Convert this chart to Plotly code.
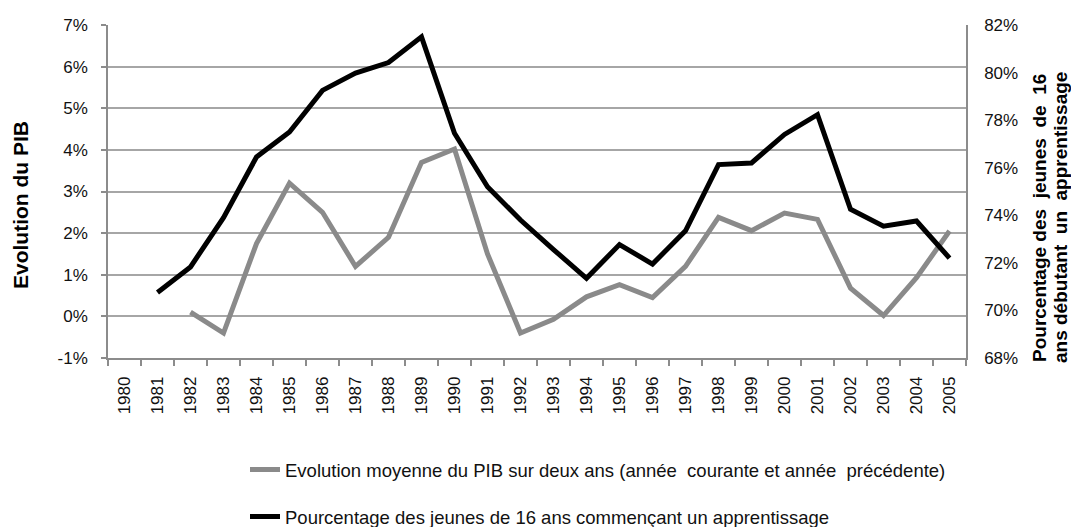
import plotly.graph_objects as go

years = [str(y) for y in range(1980, 2006)]

# Evolution moyenne du PIB sur deux ans (%), left axis
pib = [None, None, 0.1, -0.4, 1.75, 3.2, 2.5, 1.2, 1.9, 3.7, 4.02, 1.5, -0.4,
       -0.07, 0.47, 0.76, 0.45, 1.2, 2.38, 2.06, 2.48, 2.33, 0.68, 0.02, 0.93, 2.05]

# Pourcentage des jeunes de 16 ans commençant un apprentissage (%), right axis
appr = [None, 70.75, 71.83, 73.9, 76.45, 77.5, 79.25, 79.98, 80.42, 81.5, 77.45,
        75.2, 73.8, 72.56, 71.35, 72.77, 71.95, 73.35, 76.13, 76.2, 77.4, 78.23,
        74.25, 73.54, 73.76, 72.2]

left_ticks = [-1, 0, 1, 2, 3, 4, 5, 6, 7]
right_ticks = [68, 70, 72, 74, 76, 78, 80, 82]

NB = "\u00a0"
name_pib = "Evolution moyenne du PIB sur deux ans (année  courante et année  précédente)".replace("  ", " " + NB)
name_appr = "Pourcentage des jeunes de 16 ans commençant un apprentissage"
title_left = "Evolution du PIB"
title_right_1 = "Pourcentage des" + NB + " jeunes" + NB + " de" + NB + " 16"
title_right_2 = "ans débutant" + NB + " un" + NB + " apprentissage"

FONT = "Liberation Sans, Arial, sans-serif"
GRID = "#a6a6a6"
AXIS = "#8c8c8c"

W, H = 1071, 519          # page has an 8px body offset
L, T, PW, PH = 100, 17, 858, 333
OFF = 8


def px(xpage):
    return (xpage - OFF - L) / PW


def py(ypage):
    return (T + PH - (ypage - OFF)) / PH


fig = go.Figure()
fig.add_trace(go.Scatter(x=years, y=pib, name=name_pib, mode="lines",
                         line=dict(color="#8a8a8a", width=5), yaxis="y",
                         legend="legend"))
fig.add_trace(go.Scatter(x=years, y=appr, name=name_appr, mode="lines",
                         line=dict(color="#000000", width=5), yaxis="y2",
                         legend="legend2"))

fig.update_layout(
    width=W, height=H,
    margin=dict(l=L, r=W - L - PW, t=T, b=H - T - PH, autoexpand=False),
    plot_bgcolor="white", paper_bgcolor="white",
    font=dict(family=FONT, size=17, color="#111111"),
    xaxis=dict(type="category", tickson="boundaries", ticks="outside",
               ticklen=6, tickcolor=AXIS, tickwidth=1.5,
               showline=True, linecolor=AXIS, linewidth=1.5,
               showgrid=False, tickangle=-90, tickfont=dict(size=17),
               ticklabelstandoff=10,
               automargin=False, range=[-0.5, 25.5]),
    yaxis=dict(range=[-1, 7], tickvals=left_ticks,
               ticktext=[f"{v}%" for v in left_ticks],
               showline=True, linecolor=AXIS, linewidth=1.5,
               ticks="outside", ticklen=5, tickcolor=AXIS, tickwidth=1.5,
               showgrid=True, gridcolor=GRID, gridwidth=1.5,
               zeroline=False, automargin=False, ticklabelstandoff=10,
               tickfont=dict(size=17)),
    yaxis2=dict(range=[68, 82], tickvals=right_ticks,
                ticktext=[f"{v}%" for v in right_ticks],
                overlaying="y", side="right", showgrid=False,
                showline=True, linecolor=AXIS, linewidth=1.5,
                ticks="", zeroline=False, automargin=False,
                ticklabelstandoff=13,
                tickfont=dict(size=17)),
    legend=dict(xref="container", yref="container", x=237 / W, y=1 - 462 / H,
                xanchor="left", yanchor="middle", font=dict(size=18.5),
                bgcolor="rgba(0,0,0,0)"),
    legend2=dict(xref="container", yref="container", x=237 / W, y=1 - 509 / H,
                 xanchor="left", yanchor="middle", font=dict(size=18.5),
                 bgcolor="rgba(0,0,0,0)"),
    showlegend=True,
    annotations=[
        dict(text="<b>" + title_left + "</b>", xref="paper", yref="paper",
             x=px(20), y=py(205), textangle=-90,
             showarrow=False, font=dict(size=21, color="#000000"),
             xanchor="center", yanchor="middle"),
        dict(text="<b>" + title_right_1 + "</b>", xref="paper", yref="paper",
             x=px(1040), y=py(218), textangle=-90,
             showarrow=False, font=dict(size=19, color="#000000"),
             xanchor="center", yanchor="middle"),
        dict(text="<b>" + title_right_2 + "</b>", xref="paper", yref="paper",
             x=px(1061), y=py(218), textangle=-90,
             showarrow=False, font=dict(size=19, color="#000000"),
             xanchor="center", yanchor="middle"),
    ],
)

fig.write_html("out.html")
